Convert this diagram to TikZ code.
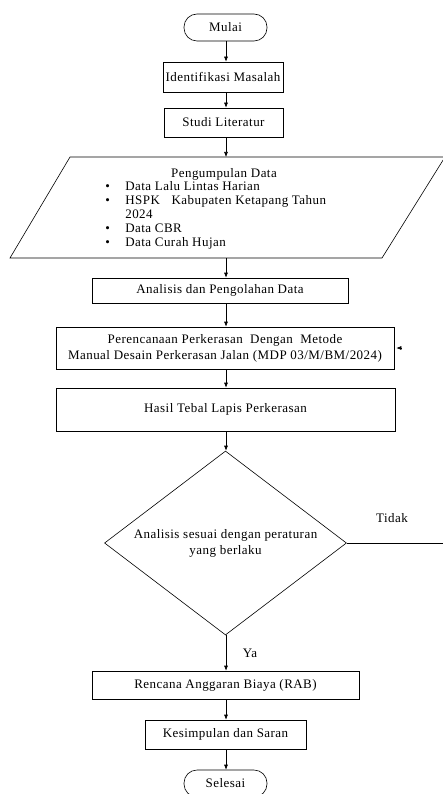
\documentclass[tikz,border=0pt]{standalone}
\usepackage{fontspec}
\setmainfont{Liberation Serif}[LetterSpace=3.5]
\usetikzlibrary{positioning}
\usetikzlibrary{shapes.geometric}
\usetikzlibrary{arrows.meta}

\begin{document}
\begin{tikzpicture}[
  x=1pt,y=-1pt,line width=0.6pt,
  box/.style={draw,align=center,inner sep=2pt,font=\fontsize{13}{14}\selectfont},
  proc/.style={box,rectangle},
  term/.style={box,rounded corners=13pt,minimum width=83pt,minimum height=27pt},
  cond/.style={box,diamond,aspect=1.3,inner sep=1pt,minimum width=242pt,minimum height=184pt},
  lbl/.style={font=\fontsize{13}{14}\selectfont,inner sep=1pt},
  arr/.style={-{Latex[length=5pt,width=4pt]}}]
\useasboundingbox (0,0) rectangle (442,794);
\coordinate (spine) at (226,0);
\node[term] (mulai) at (225.5,27.5) {Mulai};
\node[proc,minimum width=120pt,minimum height=30pt] (ident) at (223,77) {Identifikasi Masalah};
\node[proc,minimum width=119pt,minimum height=29pt] (studi) at (223.5,122.5) {Studi Literatur};
% data input
\coordinate (p1) at (70,157);
\coordinate (p2) at (445,157);
\coordinate (p3) at (382,258);
\coordinate (p4) at (10,258);
\draw (p1) -- (p2) -- (p3) -- (p4) -- cycle;
\node[lbl] (kumpul) at (224,174) {Pengumpulan Data};
\node[lbl,anchor=north west,align=left] (kumpulist) at (104,180) {%
  \makebox[20pt][l]{\textbullet}Data Lalu Lintas Harian\\
  \makebox[20pt][l]{\textbullet}HSPK\hspace{8pt} Kabupaten Ketapang Tahun\\
  \hspace*{20pt}2024\\
  \makebox[20pt][l]{\textbullet}Data CBR\\
  \makebox[20pt][l]{\textbullet}Data Curah Hujan};
\node[proc,minimum width=256pt,minimum height=25pt] (olah) at (220,290.5) {Analisis dan Pengolahan Data};
\node[proc,minimum width=338pt,minimum height=42pt,font=\fontsize{13}{16}\selectfont] (rencana) at (225,348)
  {Perencanaan Perkerasan\ \ Dengan\ \ Metode\\Manual Desain Perkerasan Jalan (MDP 03/M/BM/2024)};
\node[proc,minimum width=339pt,minimum height=43pt] (hasil) at (225.5,409.5) {Hasil Tebal Lapis Perkerasan};
\node[cond] (cek) at (225.5,543) {Analisis sesuai dengan peraturan\\[2pt]yang berlaku};
\node[proc,minimum width=267pt,minimum height=28pt] (rab) at (225.5,685) {Rencana Anggaran Biaya (RAB)};
\node[proc,minimum width=161pt,minimum height=29pt] (simpul) at (225.5,734.5) {Kesimpulan dan Saran};
\node[term] (selesai) at (225.5,783.5) {Selesai};
\node[lbl] (tidak) at (392,518) {Tidak};
\node[lbl] (ya) at (250,653) {Ya};
% connectors
\foreach \a/\b in {mulai/ident,ident/studi,olah/rencana,rencana/hasil,hasil/cek,cek/rab,rab/simpul,simpul/selesai}
  \draw[arr] (\a.south -| spine) -- (\b.north -| spine);
\draw[arr] (studi.south -| spine) -- (p1 -| spine);
\draw[arr] (p4 -| spine) -- (olah.north -| spine);
\coordinate (balik) at (443,543);
\draw (cek.east) -- (balik);
\coordinate (masuk) at ([xshift=7pt]rencana.east);
\draw[arr] (masuk) -- ([xshift=2pt]rencana.east);
\end{tikzpicture}
\end{document}
